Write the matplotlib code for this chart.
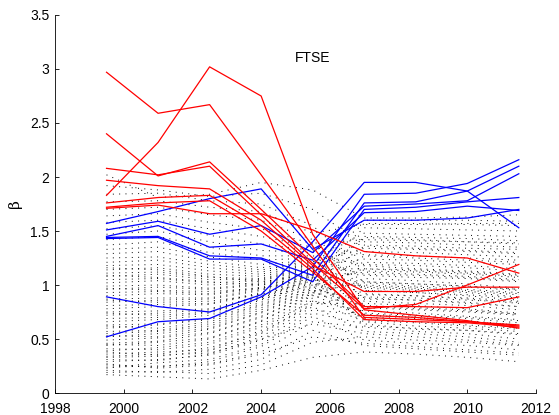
import matplotlib
matplotlib.use("Agg")
import matplotlib.pyplot as plt

plt.rcParams['font.family'] = ['Liberation Sans', 'DejaVu Sans']

years = [1999.5, 2001, 2002.5, 2004, 2005.5, 2007, 2008.5, 2010, 2011.5]
xticks = [1998, 2000, 2002, 2004, 2006, 2008, 2010, 2012]
yticks = [0, 0.5, 1, 1.5, 2, 2.5, 3, 3.5]
ytick_labels = ['0', '0.5', '1', '1.5', '2', '2.5', '3', '3.5']
title_text = 'FTSE'
ylabel_text = 'β'

red_series = [
    [2.97, 2.59, 2.67, 2.02, 1.36, 0.70, 0.68, 0.66, 0.62],
    [1.83, 2.32, 3.02, 2.75, 1.47, 0.77, 0.72, 0.67, 0.60],
    [2.40, 2.01, 2.14, 1.70, 1.25, 0.80, 0.80, 0.79, 0.89],
    [2.08, 2.02, 2.10, 1.65, 1.20, 0.78, 0.82, 1.00, 1.19],
    [1.97, 1.92, 1.89, 1.60, 1.18, 0.94, 0.94, 0.98, 0.98],
    [1.76, 1.81, 1.83, 1.55, 1.15, 0.68, 0.66, 0.65, 0.61],
    [1.71, 1.74, 1.66, 1.66, 1.51, 1.31, 1.27, 1.25, 1.11],
    [1.72, 1.76, 1.78, 1.50, 1.12, 0.72, 0.70, 0.66, 0.63],
]

blue_series = [
    [1.57, 1.68, 1.80, 1.89, 1.33, 1.60, 1.60, 1.62, 1.70],
    [1.51, 1.59, 1.47, 1.55, 1.30, 1.73, 1.75, 1.78, 2.03],
    [1.45, 1.55, 1.35, 1.38, 1.23, 1.67, 1.68, 1.73, 1.69],
    [1.44, 1.45, 1.27, 1.25, 1.09, 1.76, 1.77, 1.87, 2.10],
    [1.43, 1.44, 1.24, 1.24, 1.03, 1.70, 1.72, 1.77, 1.81],
    [0.89, 0.80, 0.75, 0.91, 1.40, 1.95, 1.95, 1.87, 1.53],
    [0.52, 0.66, 0.69, 0.89, 1.17, 1.84, 1.85, 1.94, 2.16],
]

dotted_low = [
    [0.17, 0.15, 0.13, 0.21, 0.33, 0.38, 0.36, 0.33, 0.29],
    [0.19, 0.20, 0.18, 0.26, 0.47, 0.52, 0.49, 0.47, 0.44],
    [0.21, 0.19, 0.22, 0.31, 0.58, 0.44, 0.41, 0.38, 0.35],
    [0.24, 0.25, 0.27, 0.38, 0.66, 0.61, 0.57, 0.55, 0.50],
    [0.26, 0.24, 0.29, 0.43, 0.71, 0.49, 0.46, 0.44, 0.40],
    [0.29, 0.31, 0.35, 0.49, 0.77, 0.72, 0.70, 0.66, 0.63],
    [0.31, 0.30, 0.36, 0.52, 0.80, 0.57, 0.55, 0.52, 0.47],
    [0.34, 0.36, 0.42, 0.56, 0.83, 0.83, 0.81, 0.78, 0.74],
    [0.36, 0.38, 0.40, 0.58, 0.86, 0.66, 0.62, 0.60, 0.57],
    [0.39, 0.42, 0.47, 0.63, 0.88, 0.95, 0.93, 0.90, 0.86],
    [0.41, 0.40, 0.45, 0.61, 0.85, 0.76, 0.74, 0.71, 0.68],
    [0.44, 0.47, 0.51, 0.67, 0.90, 1.06, 1.04, 1.01, 0.97],
    [0.46, 0.48, 0.55, 0.70, 0.93, 0.79, 0.77, 0.75, 0.72],
    [0.49, 0.51, 0.56, 0.71, 0.92, 1.18, 1.15, 1.13, 1.10],
    [0.52, 0.55, 0.60, 0.75, 0.95, 0.87, 0.86, 0.83, 0.80],
    [0.55, 0.57, 0.62, 0.77, 0.97, 1.27, 1.25, 1.23, 1.21],
    [0.57, 0.58, 0.64, 0.79, 0.96, 0.69, 0.66, 0.63, 0.60],
    [0.60, 0.63, 0.68, 0.82, 0.99, 1.00, 0.98, 0.96, 0.93],
    [0.63, 0.64, 0.69, 0.84, 1.01, 0.89, 0.88, 0.86, 0.84],
    [0.66, 0.68, 0.72, 0.86, 1.02, 1.36, 1.34, 1.32, 1.30],
]

dotted_mid = [
    [0.69, 0.70, 0.74, 0.88, 1.03, 0.73, 0.71, 0.69, 0.65],
    [0.72, 0.74, 0.77, 0.89, 1.04, 1.12, 1.10, 1.08, 1.05],
    [0.75, 0.76, 0.78, 0.90, 1.05, 0.98, 0.96, 0.94, 0.91],
    [0.78, 0.80, 0.82, 0.92, 1.06, 1.44, 1.42, 1.40, 1.38],
    [0.81, 0.82, 0.83, 0.93, 1.07, 0.85, 0.83, 0.81, 0.77],
    [0.84, 0.86, 0.87, 0.95, 1.08, 1.21, 1.20, 1.18, 1.15],
    [0.87, 0.88, 0.88, 0.96, 1.09, 1.03, 1.01, 0.99, 0.96],
    [0.90, 0.92, 0.91, 0.97, 1.10, 1.53, 1.52, 1.51, 1.50],
    [0.93, 0.94, 0.92, 0.98, 1.11, 0.92, 0.90, 0.88, 0.85],
    [0.96, 0.98, 0.96, 1.00, 1.12, 1.31, 1.30, 1.28, 1.26],
    [0.99, 1.00, 0.97, 1.01, 1.13, 1.09, 1.07, 1.06, 1.03],
    [1.02, 1.04, 1.00, 1.02, 1.14, 0.62, 0.60, 0.58, 0.54],
    [1.05, 1.06, 1.02, 1.04, 1.15, 1.15, 1.14, 1.12, 1.09],
    [1.08, 1.10, 1.05, 1.05, 1.16, 1.40, 1.39, 1.37, 1.35],
    [1.11, 1.12, 1.07, 1.06, 1.17, 0.81, 0.79, 0.77, 0.73],
    [1.14, 1.16, 1.10, 1.08, 1.18, 1.24, 1.23, 1.21, 1.19],
    [1.18, 1.19, 1.13, 1.10, 1.19, 1.57, 1.57, 1.56, 1.55],
    [1.21, 1.23, 1.16, 1.12, 1.20, 0.97, 0.95, 0.93, 0.89],
    [1.25, 1.26, 1.19, 1.14, 1.21, 1.34, 1.33, 1.31, 1.29],
    [1.29, 1.31, 1.22, 1.16, 1.22, 1.10, 1.09, 1.07, 1.04],
]

dotted_high = [
    [1.33, 1.35, 1.26, 1.19, 1.23, 1.48, 1.47, 1.46, 1.45],
    [1.37, 1.40, 1.30, 1.23, 1.25, 0.88, 0.86, 0.84, 0.80],
    [1.42, 1.45, 1.35, 1.27, 1.27, 1.19, 1.18, 1.16, 1.13],
    [1.47, 1.50, 1.40, 1.32, 1.30, 1.60, 1.60, 1.60, 1.59],
    [1.52, 1.55, 1.46, 1.38, 1.32, 1.03, 1.01, 0.99, 0.96],
    [1.58, 1.60, 1.52, 1.45, 1.35, 1.28, 1.27, 1.25, 1.23],
    [1.64, 1.66, 1.58, 1.52, 1.38, 1.42, 1.41, 1.40, 1.39],
    [1.70, 1.72, 1.65, 1.60, 1.42, 0.95, 0.93, 0.91, 0.88],
    [1.77, 1.78, 1.72, 1.68, 1.48, 1.56, 1.56, 1.57, 1.57],
    [1.84, 1.85, 1.78, 1.75, 1.55, 1.13, 1.12, 1.10, 1.07],
    [1.92, 1.88, 1.82, 1.85, 1.70, 1.37, 1.36, 1.34, 1.33],
    [2.02, 1.81, 1.84, 1.95, 1.88, 1.62, 1.62, 1.63, 1.65],
]

dotted_extra = [
    [0.23, 0.28, 0.31, 0.45, 0.74, 0.64, 0.59, 0.58, 0.55],
    [0.33, 0.34, 0.39, 0.55, 0.82, 0.91, 0.90, 0.87, 0.83],
    [0.45, 0.44, 0.50, 0.66, 0.91, 0.70, 0.69, 0.67, 0.63],
    [0.53, 0.52, 0.59, 0.74, 0.94, 1.02, 0.99, 0.98, 0.95],
    [0.62, 0.60, 0.66, 0.81, 0.98, 0.80, 0.78, 0.76, 0.73],
    [0.74, 0.72, 0.75, 0.87, 1.00, 1.15, 1.13, 1.11, 1.08],
    [0.86, 0.84, 0.85, 0.91, 1.04, 0.67, 0.65, 0.62, 0.59],
    [0.97, 0.95, 0.94, 0.97, 1.06, 0.99, 0.97, 0.95, 0.92],
    [1.09, 1.07, 1.03, 1.00, 1.08, 0.74, 0.72, 0.70, 0.67],
    [1.16, 1.14, 1.08, 1.03, 1.10, 1.45, 1.44, 1.43, 1.41],
    [0.27, 0.23, 0.26, 0.36, 0.52, 0.46, 0.43, 0.40, 0.37],
    [0.38, 0.35, 0.37, 0.50, 0.64, 0.55, 0.52, 0.49, 0.45],
]

fig = plt.figure(figsize=(5.59, 4.15), dpi=100)
ax = fig.add_axes([55 / 559, 1 - 393 / 415, 481 / 559, 378 / 415])

for group in (dotted_low, dotted_mid, dotted_high, dotted_extra):
    for s in group:
        ax.plot(years, s, color='k', lw=0.7, linestyle=(0, (1, 5.5)))

for s in blue_series:
    ax.plot(years, s, color=(0, 0, 1), lw=0.9)
for s in red_series:
    ax.plot(years, s, color=(1, 0, 0), lw=0.9)

ax.set_xlim(1998, 2012)
ax.set_ylim(0, 3.5)
ax.set_xticks(xticks)
ax.set_xticklabels([str(t) for t in xticks])
ax.set_yticks(yticks)
ax.set_yticklabels(ytick_labels)
ax.tick_params(direction='in', length=3, width=0.6, labelsize=10)
ax.tick_params(axis='x', pad=6.5)
ax.tick_params(axis='y', pad=4)
for side in ('top', 'right'):
    ax.spines[side].set_visible(False)
for side in ('left', 'bottom'):
    ax.spines[side].set_linewidth(0.6)

ax.text(2005.5, 3.1, title_text, ha='center', va='center', fontsize=10)
ax.set_ylabel(ylabel_text, fontsize=11, family=['DejaVu Serif'])
ax.yaxis.set_label_coords(-0.068, 0.5)

fig.savefig('out.png', dpi=100)
